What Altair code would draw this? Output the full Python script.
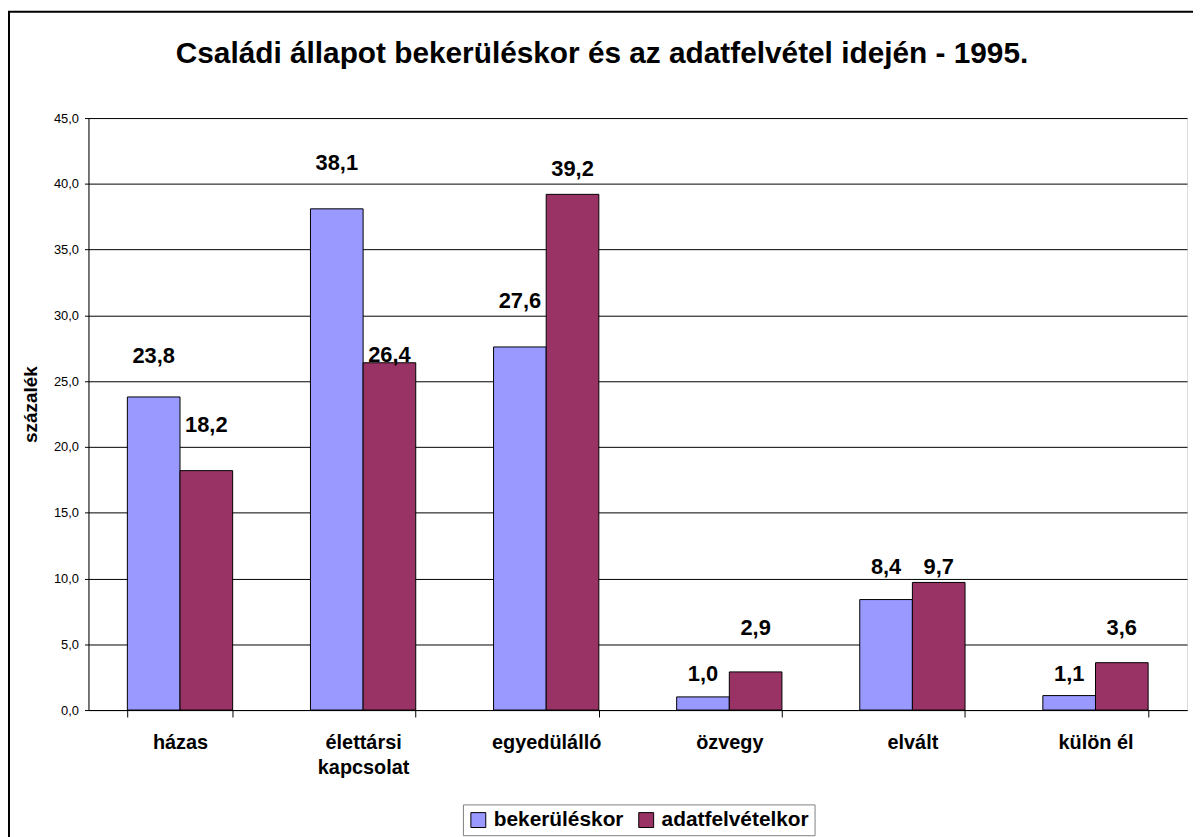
import altair as alt
import pandas as pd

FONT = "Liberation Sans"

title_text = ["Családi állapot bekerüléskor és az adatfelvétel idején - 1995."]
categories = ["házas", "élettársi kapcsolat", "egyedülálló", "özvegy", "elvált", "külön él"]
series = ["bekerüléskor", "adatfelvételkor"]
bekerules = [23.8, 38.1, 27.6, 1.0, 8.4, 1.1]
adatfelvetel = [18.2, 26.4, 39.2, 2.9, 9.7, 3.6]
# vertical position (in %) where each value label sits
label_pos_bek = [26.9, 41.6, 31.1, 2.75, 10.9, 2.75]
label_pos_adat = [21.7, 27.0, 41.1, 6.2, 10.9, 6.2]
y_ticks = [0, 5, 10, 15, 20, 25, 30, 35, 40, 45]
colors = ["#9999FF", "#993366"]

rows = []
for i, c in enumerate(categories):
    rows.append({"cat": c, "series": series[0], "value": bekerules[i], "lpos": label_pos_bek[i]})
    rows.append({"cat": c, "series": series[1], "value": adatfelvetel[i], "lpos": label_pos_adat[i]})
df = pd.DataFrame(rows)
df["label"] = df["value"].map(lambda v: f"{v:.1f}".replace(".", ","))

W, H = 1106, 596

x_enc = alt.X(
    "cat:N",
    sort=categories,
    title=None,
    scale=alt.Scale(paddingInner=0.425, paddingOuter=0.2125),
    axis=alt.Axis(
        labelExpr="datum.label == 'élettársi kapcsolat' ? ['élettársi', 'kapcsolat'] : datum.label",
        labelFont=FONT, labelFontSize=20, labelFontWeight="bold", labelColor="black",
        labelLineHeight=25, labelPadding=16, labelAngle=0,
        domainColor="black", tickColor="black", tickSize=7, tickBand="extent",
        grid=False,
    ),
)
xoff = alt.XOffset("series:N", sort=series, scale=alt.Scale(paddingInner=0, paddingOuter=0))

y_scale = alt.Scale(domain=[0, 45], nice=False, zero=True)
y_axis = alt.Axis(
    values=y_ticks,
    labelExpr="replace(format(datum.value, '.1f'), '.', ',')",
    labelFont=FONT, labelFontSize=13, labelColor="black", labelPadding=6,
    domainColor="black", tickColor="black", tickSize=4,
    grid=True, gridColor="black", gridWidth=1,
    title="százalék", titleFont=FONT, titleFontSize=19, titleFontWeight="bold",
    titleColor="black", titlePadding=13, titleY=288,
)

bars = alt.Chart(df).mark_bar(stroke="black", strokeWidth=1).encode(
    x=x_enc,
    xOffset=xoff,
    y=alt.Y("value:Q", scale=y_scale, axis=y_axis),
    color=alt.Color(
        "series:N",
        sort=series,
        scale=alt.Scale(domain=series, range=colors),
        legend=alt.Legend(
            title=None, orient="none", legendX=377, legendY=691, direction="horizontal",
            strokeColor="#808080", fillColor="white", padding=5,
            labelFont=FONT, labelFontSize=21, labelFontWeight="bold", labelColor="black",
            symbolType="square", symbolSize=225, symbolStrokeColor="black", symbolStrokeWidth=1,
            labelOffset=5, columnPadding=12, labelLimit=400,
        ),
    ),
)

labels = alt.Chart(df).mark_text(
    font=FONT, fontSize=22, fontWeight="bold", baseline="middle", color="black"
).encode(
    x=x_enc,
    xOffset=xoff,
    y=alt.Y("lpos:Q", scale=y_scale, axis=y_axis),
    text="label:N",
)

title = alt.Chart(pd.DataFrame({"t": title_text})).mark_text(
    font=FONT, fontSize=30, fontWeight="bold", baseline="middle", align="center", color="black"
).encode(
    text="t:N", x=alt.value(W / 2 - 36), y=alt.value(-64)
)

border = alt.Chart(pd.DataFrame({"a": [0]})).mark_rect(
    fill=None, stroke="black", strokeWidth=2
).encode(
    x=alt.value(-80), x2=alt.value(W + 30), y=alt.value(-107), y2=alt.value(H + 160)
)

chart = alt.layer(bars, labels, title, border).properties(
    width=W,
    height=H,
    padding={"left": 81, "top": 108, "right": 6, "bottom": 125},
    autosize=alt.AutoSizeParams(type="none"),
).configure_view(stroke="#808080", strokeWidth=1).configure(background="white")

chart.save("out.html", embed_options={"renderer": "svg", "actions": False})
